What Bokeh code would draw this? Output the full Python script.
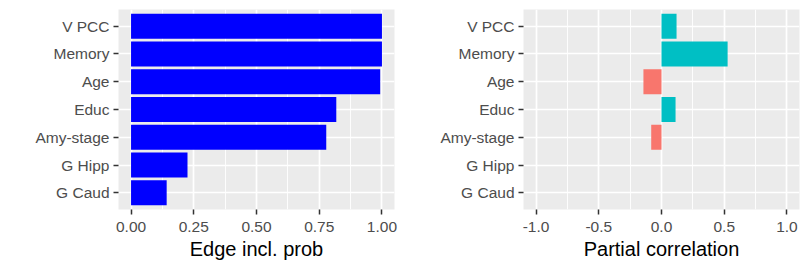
from bokeh.plotting import figure
from bokeh.models import FixedTicker, Range1d, FactorRange, ColumnDataSource
from bokeh.layouts import row
from bokeh.embed import file_html
from bokeh.resources import INLINE

# ---- data ----
categories = ["G Caud", "G Hipp", "Amy-stage", "Educ", "Age", "Memory", "V PCC"]
edge_incl_prob = [0.142, 0.225, 0.778, 0.818, 0.993, 1.00, 1.00]
partial_corr = [0.0, 0.0, -0.082, 0.112, -0.144, 0.527, 0.12]

left_ticks = [0.0, 0.25, 0.5, 0.75, 1.0]
left_tick_labels = ["0.00", "0.25", "0.50", "0.75", "1.00"]
left_minor = [0.125, 0.375, 0.625, 0.875]
right_ticks = [-1.0, -0.5, 0.0, 0.5, 1.0]
right_tick_labels = ["-1.0", "-0.5", "0.0", "0.5", "1.0"]
right_minor = [-0.75, -0.25, 0.25, 0.75]

POS = "#00BFC4"
NEG = "#F8766D"
FONT = "Liberation Sans"


def style(p, ticks, labels, minor, title):
    p.background_fill_color = "#EBEBEB"
    p.border_fill_color = "white"
    p.outline_line_color = None
    p.xaxis.ticker = FixedTicker(ticks=ticks, minor_ticks=minor)
    p.xaxis.major_label_overrides = {t: l for t, l in zip(ticks, labels)}
    for ax in (p.xaxis[0], p.yaxis[0]):
        ax.axis_line_color = None
        ax.major_tick_line_color = "#333333"
        ax.major_tick_line_width = 1.5
        ax.major_tick_out = 5
        ax.major_tick_in = 0
        ax.minor_tick_line_color = None
        ax.major_label_text_font = FONT
        ax.major_label_text_font_size = "15.5px"
        ax.major_label_text_color = "#4D4D4D"
    p.xaxis.major_label_standoff = 7
    p.yaxis.major_label_standoff = 4
    p.xaxis.axis_label = title
    p.xaxis.axis_label_text_font = FONT
    p.xaxis.axis_label_text_font_size = "20px"
    p.xaxis.axis_label_text_font_style = "normal"
    p.xaxis.axis_label_text_color = "black"
    p.xaxis.axis_label_standoff = 3
    p.xgrid.grid_line_color = "white"
    p.xgrid.grid_line_width = 1.7
    p.xgrid.minor_grid_line_color = "white"
    p.xgrid.minor_grid_line_width = 0.9
    p.ygrid.grid_line_color = "white"
    p.ygrid.grid_line_width = 1.7


# ---- left panel ----
src1 = ColumnDataSource(dict(cat=categories, val=edge_incl_prob))
p1 = figure(width=404, height=269, output_backend="svg", toolbar_location=None,
            x_range=Range1d(-0.05, 1.05),
            y_range=FactorRange(factors=categories, range_padding=0.1,
                                range_padding_units="absolute"),
            min_border_left=118, min_border_right=10,
            min_border_top=9, min_border_bottom=60)
p1.hbar(y="cat", left=0, right="val", height=0.9, source=src1,
        fill_color="#0000FF", line_color=None)
style(p1, left_ticks, left_tick_labels, left_minor, "Edge incl. prob")

# ---- right panel ----
colors = [POS if v >= 0 else NEG for v in partial_corr]
src2 = ColumnDataSource(dict(cat=categories, val=partial_corr, color=colors))
p2 = figure(width=405, height=269, output_backend="svg", toolbar_location=None,
            x_range=Range1d(-1.1, 1.1),
            y_range=FactorRange(factors=categories, range_padding=0.1,
                                range_padding_units="absolute"),
            min_border_left=119, min_border_right=10,
            min_border_top=9, min_border_bottom=60)
p2.hbar(y="cat", left=0, right="val", height=0.9, source=src2,
        fill_color="color", line_color=None)
style(p2, right_ticks, right_tick_labels, right_minor, "Partial correlation")

layout = row(p1, p2)
open("out.html", "w").write(file_html(layout, INLINE))
